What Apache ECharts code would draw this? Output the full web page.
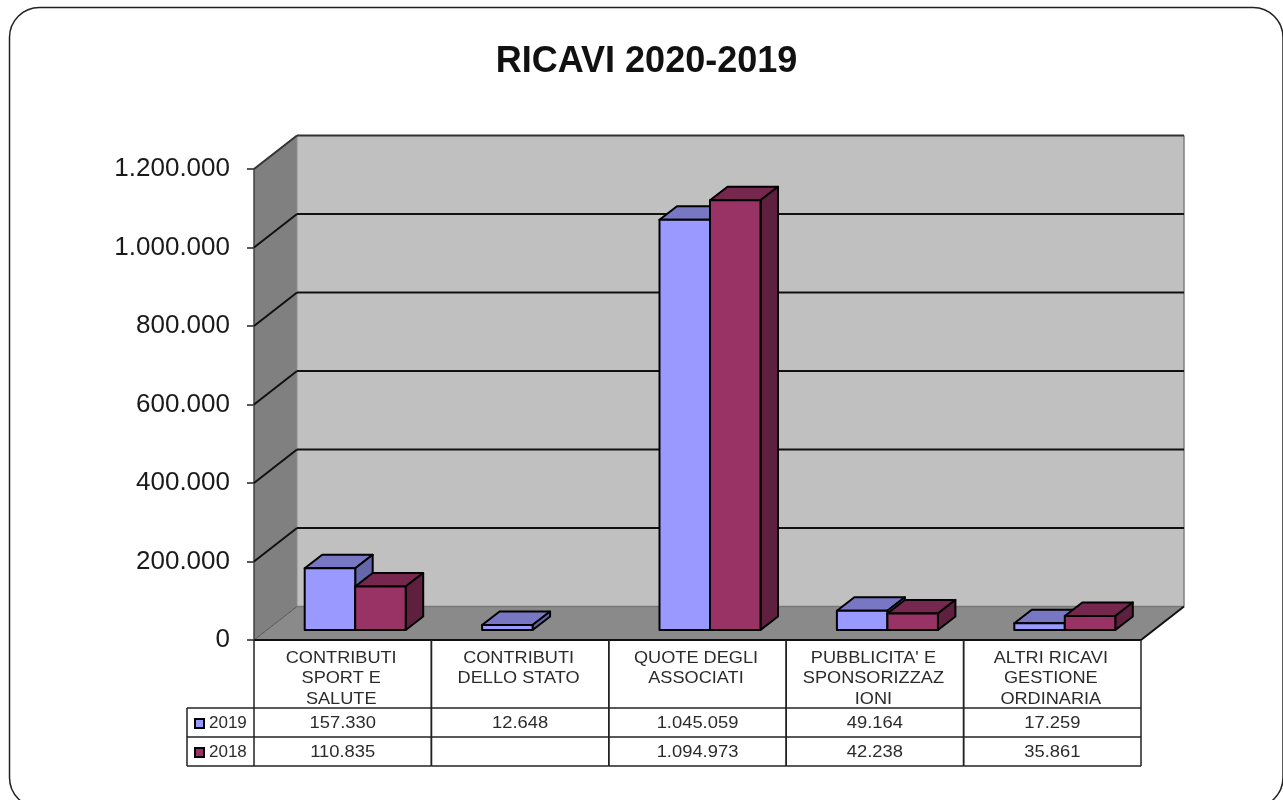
<!DOCTYPE html>
<html lang="it">
<head>
    <meta charset="UTF-8">
    <title>RICAVI 2020-2019</title>
    <style>
        * { margin: 0; padding: 0; }
        body { background: #fff; overflow: hidden; }
        #chart { width: 1283px; height: 800px; filter: blur(0.45px); }
    </style>
    <script src="https://cdn.jsdelivr.net/npm/echarts@6/dist/echarts.min.js"></script>
</head>
<body>
    <div id="chart"></div>
    <script>
        var categorie = [
            'CONTRIBUTI\nSPORT E\nSALUTE',
            'CONTRIBUTI\nDELLO STATO',
            'QUOTE DEGLI\nASSOCIATI',
            "PUBBLICITA' E\nSPONSORIZZAZ\nIONI",
            'ALTRI RICAVI\nGESTIONE\nORDINARIA'
        ];
        var anni = ['2019', '2018'];
        var valori2019 = [157330, 12648, 1045059, 49164, 17259];
        var valori2018 = [110835, null, 1094973, 42238, 35861];
        var tickValori = [0, 200000, 400000, 600000, 800000, 1000000, 1200000];

        var myChart = echarts.init(document.getElementById('chart'));
        var font = '"Liberation Sans", Arial, sans-serif';

        // profondita' delle pareti e delle barre (finto 3D)
        var wallDx = 43, wallDy = 33.5;
        var barDx = 17.5, barDy = 13.5;
        var barShiftX = 12.5, barShiftY = 10;
        var barWidth = 50.5;
        // righe della tabella sotto il grafico
        var catRowH = 68, rowH = 29;

        function puntato(v) {
            return String(v).replace(/\B(?=(\d{3})+$)/g, '.');
        }

        function poly(points, fill, stroke, width) {
            return {
                type: 'polygon',
                shape: { points: points },
                style: { fill: fill, stroke: stroke, lineWidth: width, lineJoin: 'round' }
            };
        }

        function line(x1, y1, x2, y2, color, width) {
            return {
                type: 'line',
                shape: { x1: x1, y1: y1, x2: x2, y2: y2 },
                style: { stroke: color, lineWidth: width, fill: null }
            };
        }

        function renderWall(params, api) {
            var children = [];
            var p = api.coord([0, api.value(1)]);
            var band = api.size([1, 0])[0];
            var x = p[0] - band / 2;
            var right = x + band * categorie.length;
            if (params.dataIndex === 0) {
                var top = api.coord([0, tickValori[tickValori.length - 1]])[1];
                var bottom = p[1];
                // parete sinistra, parete di fondo, pavimento
                children.push(poly([[x, top], [x + wallDx, top - wallDy], [x + wallDx, bottom - wallDy], [x, bottom]], '#808080'));
                children.push(poly([[x + wallDx, top - wallDy], [right + wallDx, top - wallDy], [right + wallDx, bottom - wallDy], [x + wallDx, bottom - wallDy]], '#c0c0c0'));
                children.push(poly([[x, bottom], [x + wallDx, bottom - wallDy], [right + wallDx, bottom - wallDy], [right, bottom]], '#8a8a8a'));
                children.push(line(x + wallDx, bottom - wallDy, right + wallDx, bottom - wallDy, '#787878', 1.5));
                children.push(line(x + wallDx, top - wallDy, x + wallDx, bottom - wallDy, '#8c8c8c', 1));
                children.push(line(right + wallDx, top - wallDy, right + wallDx, bottom - wallDy, '#808080', 1.5));
                children.push(line(x, top, x, bottom, '#404040', 1.5));
                children.push(line(x, bottom, x + wallDx, bottom - wallDy, '#555', 1));
                children.push(line(right, bottom, right + wallDx, bottom - wallDy, '#111', 2));
                children.push(line(x, bottom, right, bottom, '#111', 2));
            } else {
                var c = api.value(1) === tickValori[tickValori.length - 1] ? '#333' : '#111';
                children.push(line(x, p[1], x + wallDx, p[1] - wallDy, c, 2));
                children.push(line(x + wallDx, p[1] - wallDy, right + wallDx, p[1] - wallDy, c, 2));
            }
            return { type: 'group', children: children };
        }

        function renderBar(lato, front, topColor, sideColor) {
            return function (params, api) {
                var v = api.value(1);
                if (v === null || isNaN(v)) return;
                var base = api.coord([api.value(0), 0]);
                var high = api.coord([api.value(0), v]);
                var x0 = base[0] + barShiftX + (lato === 0 ? -barWidth : 0);
                var x1 = x0 + barWidth;
                var y0 = base[1] - barShiftY;
                var y1 = high[1] - barShiftY;
                return {
                    type: 'group',
                    children: [
                        poly([[x0, y1], [x0 + barDx, y1 - barDy], [x1 + barDx, y1 - barDy], [x1, y1]], topColor, '#000', 2),
                        poly([[x1, y1], [x1 + barDx, y1 - barDy], [x1 + barDx, y0 - barDy], [x1, y0]], sideColor, '#000', 2),
                        poly([[x0, y1], [x1, y1], [x1, y0], [x0, y0]], front, '#000', 2)
                    ]
                };
            };
        }

        function cella(x, y, testo, scala, size) {
            return {
                type: 'text',
                x: x,
                y: y,
                scaleX: scala,
                style: {
                    text: testo,
                    font: size + 'px ' + font,
                    fill: '#2b2b2b',
                    align: 'center',
                    verticalAlign: 'middle'
                }
            };
        }

        function renderTable(params, api) {
            var i = params.dataIndex;
            var p = api.coord([i, 0]);
            var band = api.size([1, 0])[0];
            var l = p[0] - band / 2;
            var r = p[0] + band / 2;
            var t = p[1];
            var children = [
                line(l, t, l, t + catRowH + 2 * rowH, '#222', 1.5),
                line(r, t, r, t + catRowH + 2 * rowH, '#222', 1.5),
                line(l, t + catRowH, r, t + catRowH, '#222', 1.5),
                line(l, t + catRowH + rowH, r, t + catRowH + rowH, '#222', 1.5),
                line(l, t + catRowH + 2 * rowH, r, t + catRowH + 2 * rowH, '#222', 1.5)
            ];
            categorie[i].split('\n').forEach(function (riga, n) {
                children.push(cella(p[0] - 1.5, t + 18 + n * 20.5, riga, 1.1, 16.5));
            });
            children.push(cella(p[0], t + catRowH + rowH / 2 + 0.5, puntato(valori2019[i]), 1.08, 17));
            if (valori2018[i] !== null) {
                children.push(cella(p[0], t + catRowH + rowH * 1.5 + 1, puntato(valori2018[i]), 1.08, 17));
            }
            if (i === 0) {
                // colonna della legenda
                var lx = l - 67;
                children.push(line(lx, t + catRowH, l, t + catRowH, '#222', 1.5));
                children.push(line(lx, t + catRowH + rowH, l, t + catRowH + rowH, '#222', 1.5));
                children.push(line(lx, t + catRowH + 2 * rowH, l, t + catRowH + 2 * rowH, '#222', 1.5));
                children.push(line(lx, t + catRowH, lx, t + catRowH + 2 * rowH, '#222', 1.5));
            }
            return { type: 'group', children: children };
        }

        myChart.setOption({
            animation: false,
            backgroundColor: '#fff',
            title: {
                text: 'RICAVI 2020-2019',
                left: 641.5,
                top: 39,
                textAlign: 'center',
                textStyle: { fontFamily: font, fontSize: 36, fontWeight: 'bold', color: '#111' }
            },
            legend: {
                orient: 'vertical',
                left: 189,
                top: 710,
                itemWidth: 9,
                itemHeight: 9,
                itemGap: 12,
                icon: 'rect',
                selectedMode: false,
                itemStyle: { borderColor: '#000', borderWidth: 2 },
                textStyle: { fontFamily: font, fontSize: 17, color: '#2b2b2b' },
                data: anni
            },
            grid: { left: 254, right: 142, top: 169, height: 471 },
            xAxis: {
                type: 'category',
                data: categorie,
                axisLine: { show: false },
                axisTick: { show: false },
                axisLabel: { show: false }
            },
            yAxis: {
                type: 'value',
                min: 0,
                max: 1200000,
                interval: 200000,
                axisLine: { show: false },
                axisTick: { show: true, length: 7, lineStyle: { color: '#222', width: 1.5 } },
                axisLabel: {
                    margin: 24,
                    fontFamily: font,
                    fontSize: 26,
                    color: '#1a1a1a',
                    padding: [3, 0, 0, 0],
                    formatter: puntato
                },
                splitLine: { show: false }
            },
            series: [
                {
                    name: 'pareti',
                    type: 'custom',
                    silent: true,
                    z: 1,
                    renderItem: renderWall,
                    encode: { x: 0, y: 1 },
                    data: tickValori.map(function (v) { return [0, v]; })
                },
                {
                    name: anni[0],
                    type: 'custom',
                    z: 3,
                    itemStyle: { color: '#9999ff' },
                    renderItem: renderBar(0, '#9999ff', '#7777c4', '#6666aa'),
                    encode: { x: 0, y: 1 },
                    data: valori2019.map(function (v, i) { return [i, v]; })
                },
                {
                    name: anni[1],
                    type: 'custom',
                    z: 4,
                    itemStyle: { color: '#993366' },
                    renderItem: renderBar(1, '#993366', '#75274e', '#5f2040'),
                    encode: { x: 0, y: 1 },
                    data: valori2018.map(function (v, i) { return [i, v]; })
                },
                {
                    name: 'tabella',
                    type: 'custom',
                    silent: true,
                    z: 5,
                    renderItem: renderTable,
                    encode: { x: 0 },
                    data: categorie.map(function (c, i) { return [i]; })
                }
            ],
            graphic: [{
                type: 'rect',
                silent: true,
                z: 0,
                shape: { x: 9.5, y: 7.5, width: 1273.5, height: 800, r: 30 },
                style: { fill: 'none', stroke: '#222', lineWidth: 1.5 }
            }]
        });
    </script>
</body>
</html>
